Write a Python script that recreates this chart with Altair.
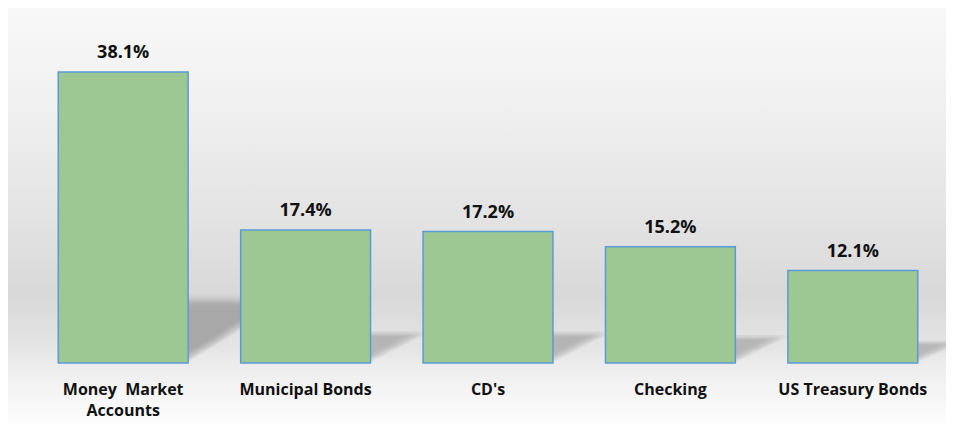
import math
import altair as alt
import pandas as pd

categories = ["Money\u00a0 Market\nAccounts", "Municipal Bonds", "CD's", "Checking", "US Treasury Bonds"]
values = [38.1, 17.4, 17.2, 15.2, 12.1]
value_labels = ["38.1%", "17.4%", "17.2%", "15.2%", "12.1%"]

df = pd.DataFrame({"category": categories, "value": values, "label": value_labels})

W, H = 912, 353
Y_MAX = 46.2
PX = H / Y_MAX          # pixels per data unit (used for shadow styling only)
FONT = "Open Sans"

x_enc = alt.X("category:N", sort=categories,
              scale=alt.Scale(paddingInner=0.288, paddingOuter=0.144),
              axis=alt.Axis(title=None, labelAngle=0, domain=False, ticks=False, tickSize=0,
                            labelFont=FONT, labelFontSize=16, labelFontWeight="bold",
                            labelColor="#111111", labelPadding=18, labelLineHeight=21,
                            labelExpr="split(datum.label, '\\n')", grid=False, zindex=2))
y_scale = alt.Scale(domain=[0, Y_MAX], nice=False, zero=True)

bg_grad = alt.Gradient(
    gradient="linear", x1=0, y1=0, x2=0, y2=1,
    stops=[
        alt.GradientStop(offset=0.0, color="#f9f9f9"),
        alt.GradientStop(offset=0.25, color="#f0f0f0"),
        alt.GradientStop(offset=0.5, color="#e4e4e4"),
        alt.GradientStop(offset=0.70, color="#d8d8d8"),
        alt.GradientStop(offset=0.83, color="#e6e6e6"),
        alt.GradientStop(offset=0.86, color="#ececec"),
        alt.GradientStop(offset=0.92, color="#f4f4f4"),
        alt.GradientStop(offset=1.0, color="#fcfcfc"),
    ])

background = alt.Chart(pd.DataFrame({"k": [0]})).mark_rect(fill=bg_grad).encode(
    x=alt.value(-24), x2=alt.value(914), y=alt.value(-10), y2=alt.value(413)
)

base = alt.Chart(df)

# soft perspective shadows (decoration), derived from each bar's value
SH_FRAC = 0.235
shadow_layers = []
for c, v in zip(categories, values):
    s_px = v * SH_FRAC * PX
    d_px = 20 + 1.33 * s_px
    n_rows = max(10, int(math.ceil(s_px / 1.0)))
    shade = 168 + (67 - min(s_px, 67)) * 0.35
    for i in range(n_rows):
        f = (i + 0.5) / n_rows
        t = min(max((f - 0.82) / 0.18, 0.0), 1.0)
        t = t * t * (3 - 2 * t)
        g = int(round(shade + (212 - shade) * t))
        col = f"rgb({g},{g},{g})"
        grad = alt.Gradient(
            gradient="linear", x1=0, y1=0, x2=1, y2=0,
            stops=[
                alt.GradientStop(offset=0.0, color=col),
                alt.GradientStop(offset=0.85, color=col),
                alt.GradientStop(offset=1.0, color=f"rgba({g},{g},{g},0)"),
            ])
        lo = SH_FRAC * i / n_rows
        hi = SH_FRAC * (i + 1) / n_rows + 0.08 / v
        layer = base.transform_filter(alt.datum.category == c).transform_calculate(
            lo=f"datum.value * {lo:.6f}", hi=f"datum.value * {hi:.6f}"
        ).mark_bar(xOffset=round(d_px * f, 2), fill=grad, strokeWidth=0).encode(
            x=x_enc,
            y=alt.Y("hi:Q", scale=y_scale, axis=None),
            y2="lo:Q",
        )
        shadow_layers.append(layer)

bars = base.mark_bar(fill="#9dc894", stroke="#5b9bd5", strokeWidth=1.5).encode(
    x=x_enc,
    y=alt.Y("value:Q", scale=y_scale, axis=None),
)

text = base.mark_text(dy=-14, baseline="alphabetic", font=FONT, fontSize=18,
                      fontWeight="bold", color="#111111").encode(
    x=x_enc,
    y=alt.Y("value:Q", scale=y_scale, axis=None),
    text="label:N",
)

chart = alt.layer(background, *shadow_layers, bars, text).properties(
    width=W, height=H,
    autosize=alt.AutoSizeParams(type="none"),
    padding={"left": 24, "top": 2, "right": 2, "bottom": 62},
).configure_view(stroke=None).configure(background="white")

chart.save("out.html", embed_options={"renderer": "svg", "actions": False})
